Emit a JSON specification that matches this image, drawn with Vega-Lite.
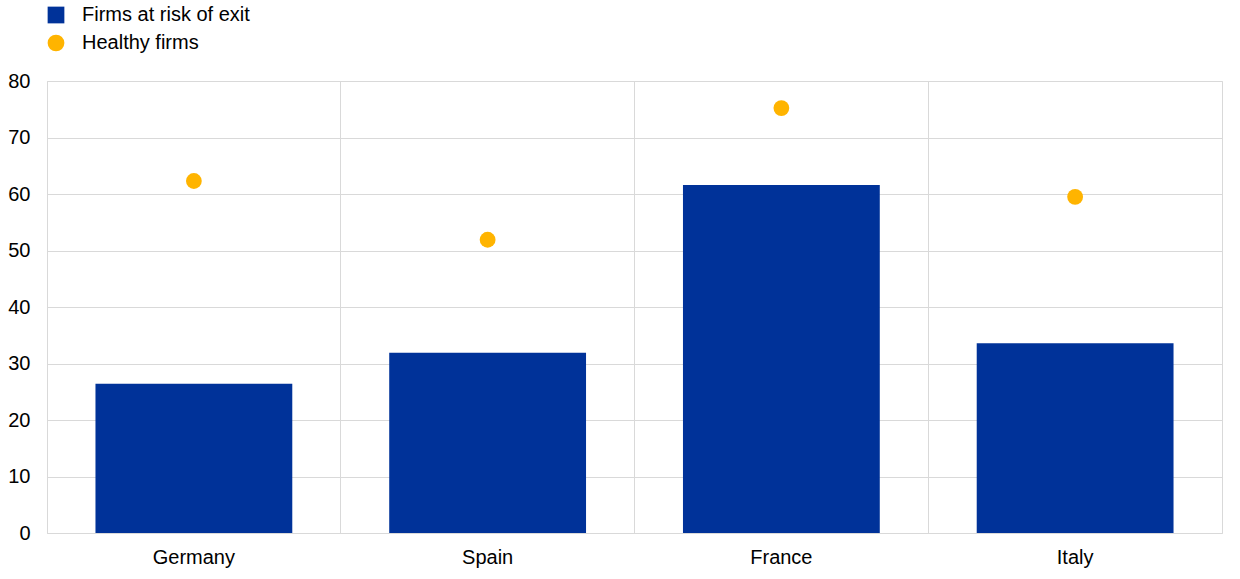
{
  "$schema": "https://vega.github.io/schema/vega-lite/v6.json",
  "width": 1175,
  "height": 452,
  "autosize": {"type": "none"},
  "padding": {"left": 47, "top": 81, "right": 18, "bottom": 46},
  "background": "white",
  "config": {
    "font": "Liberation Sans",
    "view": {"stroke": "#d9d9d9", "strokeWidth": 1},
    "axis": {"labelFont": "Liberation Sans", "labelFontSize": 20, "labelColor": "#000000", "gridColor": "#d9d9d9", "domain": false, "ticks": false}
  },
  "data": {
    "values": [
      {"country": "Germany", "series": "Firms at risk of exit", "value": 26.4},
      {"country": "Spain", "series": "Firms at risk of exit", "value": 31.9},
      {"country": "France", "series": "Firms at risk of exit", "value": 61.6},
      {"country": "Italy", "series": "Firms at risk of exit", "value": 33.6},
      {"country": "Germany", "series": "Healthy firms", "value": 62.3},
      {"country": "Spain", "series": "Healthy firms", "value": 51.9},
      {"country": "France", "series": "Healthy firms", "value": 75.2},
      {"country": "Italy", "series": "Healthy firms", "value": 59.5}
    ]
  },
  "encoding": {
    "x": {
      "field": "country", "type": "nominal", "sort": ["Germany", "Spain", "France", "Italy"],
      "scale": {"paddingInner": 0, "paddingOuter": 0},
      "axis": {"title": null, "labelAngle": 0, "labelPadding": 14, "grid": true, "bandPosition": 0}
    },
    "y": {
      "field": "value", "type": "quantitative",
      "scale": {"domain": [0, 80]},
      "axis": {"title": null, "values": [0, 10, 20, 30, 40, 50, 60, 70, 80], "labelPadding": 17, "grid": true}
    },
    "color": {
      "field": "series", "type": "nominal",
      "scale": {"domain": ["Firms at risk of exit", "Healthy firms"], "range": ["#003299", "#FFB400"]},
      "legend": {
        "title": null, "orient": "none", "legendX": -1, "legendY": -76,
        "labelFontSize": 20, "labelFont": "Liberation Sans", "labelColor": "#000000", "labelLimit": 500,
        "symbolSize": 280, "rowPadding": 8, "labelOffset": 16, "symbolStrokeWidth": 0
      }
    },
    "shape": {
      "field": "series", "type": "nominal",
      "scale": {"domain": ["Firms at risk of exit", "Healthy firms"], "range": ["square", "circle"]},
      "legend": {
        "title": null, "orient": "none", "legendX": -1, "legendY": -76,
        "labelFontSize": 20, "labelFont": "Liberation Sans", "labelColor": "#000000", "labelLimit": 500,
        "symbolSize": 280, "rowPadding": 8, "labelOffset": 16, "symbolStrokeWidth": 0
      }
    }
  },
  "layer": [
    {
      "transform": [{"filter": "datum.series === 'Firms at risk of exit'"}],
      "mark": {"type": "bar", "width": {"band": 0.67}}
    },
    {
      "transform": [{"filter": "datum.series === 'Healthy firms'"}],
      "mark": {"type": "point", "filled": true, "size": 250, "opacity": 1}
    }
  ]
}
